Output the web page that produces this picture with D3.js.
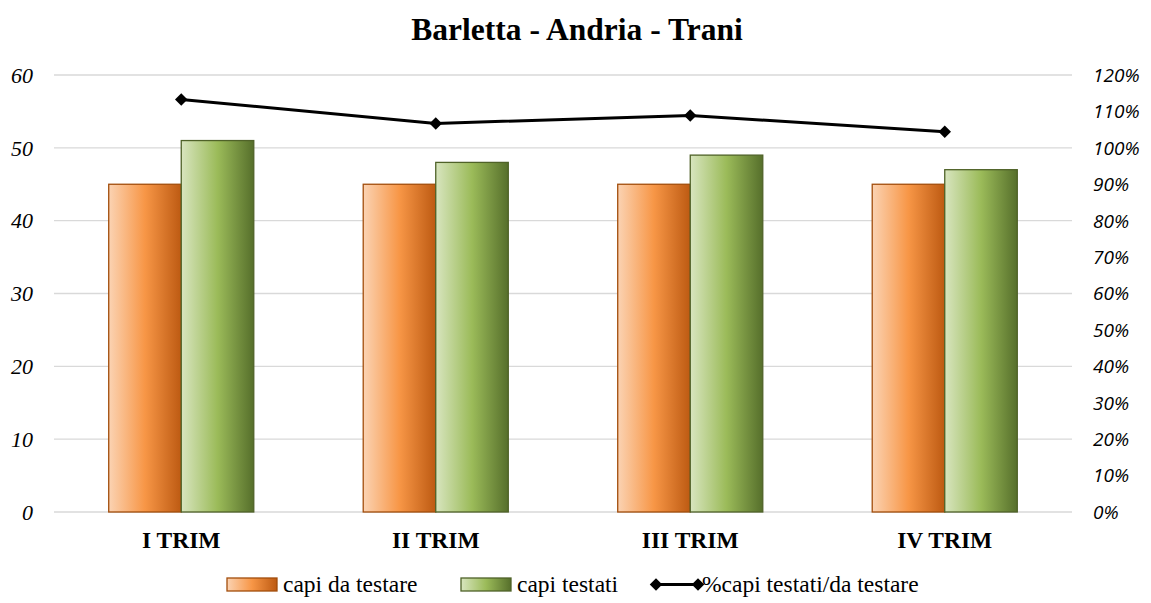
<!DOCTYPE html>
<html>
<head>
<meta charset="utf-8">
<script src="https://cdn.jsdelivr.net/npm/d3@7"></script>
<style>
  html, body { margin: 0; padding: 0; background: #fff; }
  svg { display: block; }
</style>
</head>
<body>
<svg id="chart" width="1151" height="603"></svg>
<script>
// Quarterly figures for Barletta - Andria - Trani
const categories = ["I TRIM", "II TRIM", "III TRIM", "IV TRIM"];
const capiDaTestare = [45, 45, 45, 45];
const capiTestati = [51, 48, 49, 47];
const percentTestati = [1.133, 1.067, 1.089, 1.044];
const leftTicks = [0, 10, 20, 30, 40, 50, 60];
const rightTicks = [0, 0.1, 0.2, 0.3, 0.4, 0.5, 0.6, 0.7, 0.8, 0.9, 1.0, 1.1, 1.2];

const svg = d3.select("#chart");
const plot = { left: 54, right: 1072, top: 75, bottom: 512 };
const serif = "Liberation Serif, serif";

const defs = svg.append("defs");
function grad(id, stops) {
  const g = defs.append("linearGradient").attr("id", id)
    .attr("x1", "0%").attr("x2", "100%").attr("y1", "0%").attr("y2", "0%");
  stops.forEach(([o, c]) => g.append("stop").attr("offset", o).attr("stop-color", c));
}
grad("gOrange", [["0%", "#fbd3b3"], ["50%", "#f79646"], ["100%", "#bd5a12"]]);
grad("gGreen", [["0%", "#d8e5bf"], ["50%", "#9bbb59"], ["100%", "#566f2b"]]);

const x = d3.scaleBand().domain(categories).range([plot.left, plot.right]).paddingInner(0.43).paddingOuter(0.215);
const xSub = d3.scaleBand().domain(["a", "b"]).range([0, x.bandwidth()]);
const xc = d3.scaleBand().domain(categories).range([plot.left, plot.right]);
const yL = d3.scaleLinear().domain([0, 60]).range([plot.bottom, plot.top]);
const yR = d3.scaleLinear().domain([0, 1.2]).range([plot.bottom, plot.top]);

// gridlines
svg.append("g").selectAll("line").data(leftTicks).join("line")
  .attr("x1", plot.left).attr("x2", plot.right)
  .attr("y1", d => yL(d)).attr("y2", d => yL(d))
  .attr("stroke", "#d9d9d9").attr("stroke-width", 1.3);

// left axis labels
svg.append("g").selectAll("text").data(leftTicks).join("text")
  .attr("x", 33).attr("y", d => yL(d)).attr("dy", "0.35em")
  .attr("text-anchor", "end")
  .style("font-family", serif).style("font-style", "italic")
  .style("font-size", "22px").attr("fill", "#000")
  .text(d => d);

// right axis labels
svg.append("g").selectAll("text").data(rightTicks).join("text")
  .attr("x", 1093).attr("y", d => yR(d)).attr("dy", "0.36em")
  .attr("text-anchor", "start")
  .style("font-family", "Open Sans, Liberation Sans, sans-serif").style("font-style", "italic")
  .style("font-size", "19px").attr("fill", "#000")
  .text(d => d3.format(".0%")(d));

// bars
const groups = svg.append("g").selectAll("g").data(categories).join("g")
  .attr("transform", d => `translate(${x(d)},0)`);
groups.append("rect")
  .attr("x", xSub("a")).attr("width", xSub.bandwidth())
  .attr("y", (d, i) => yL(capiDaTestare[i]))
  .attr("height", (d, i) => yL(0) - yL(capiDaTestare[i]))
  .attr("fill", "url(#gOrange)").attr("stroke", "#a24d0c").attr("stroke-width", 1.3);
groups.append("rect")
  .attr("x", xSub("b")).attr("width", xSub.bandwidth())
  .attr("y", (d, i) => yL(capiTestati[i]))
  .attr("height", (d, i) => yL(0) - yL(capiTestati[i]))
  .attr("fill", "url(#gGreen)").attr("stroke", "#4f6228").attr("stroke-width", 1.3);

// ratio line
const lineData = categories.map((c, i) => [xc(c) + xc.bandwidth() / 2, yR(percentTestati[i])]);
svg.append("path").datum(lineData)
  .attr("d", d3.line())
  .attr("fill", "none").attr("stroke", "#000").attr("stroke-width", 3);
const diamond = d3.symbol().type(d3.symbolDiamond2).size(100);
svg.append("g").selectAll("path").data(lineData).join("path")
  .attr("transform", d => `translate(${d[0]},${d[1]})`)
  .attr("d", diamond).attr("fill", "#000");

// category labels
svg.append("g").selectAll("text").data(categories).join("text")
  .attr("x", d => xc(d) + xc.bandwidth() / 2).attr("y", 548)
  .attr("text-anchor", "middle")
  .style("font-family", serif).style("font-weight", "bold")
  .style("font-size", "23.5px").attr("fill", "#000")
  .text(d => d);

// title
svg.append("text").attr("x", 577).attr("y", 40)
  .attr("text-anchor", "middle")
  .style("font-family", serif).style("font-weight", "bold")
  .style("font-size", "31.5px").attr("fill", "#000")
  .text("Barletta - Andria - Trani");

// legend
const lg = svg.append("g").style("font-family", serif).style("font-size", "23.5px").attr("fill", "#000");
lg.append("rect").attr("x", 227).attr("y", 578).attr("width", 50).attr("height", 13)
  .attr("fill", "url(#gOrange)").attr("stroke", "#a24d0c").attr("stroke-width", 1.3);
lg.append("text").attr("x", 283).attr("y", 592).text("capi da testare");
lg.append("rect").attr("x", 461).attr("y", 578).attr("width", 50).attr("height", 13)
  .attr("fill", "url(#gGreen)").attr("stroke", "#4f6228").attr("stroke-width", 1.3);
lg.append("text").attr("x", 517).attr("y", 592).text("capi testati");
lg.append("line").attr("x1", 656).attr("x2", 698).attr("y1", 584.5).attr("y2", 584.5)
  .attr("stroke", "#000").attr("stroke-width", 3);
lg.selectAll("path.m").data([656, 698]).join("path").attr("class", "m")
  .attr("transform", d => `translate(${d},584.5)`).attr("d", diamond).attr("fill", "#000");
lg.append("text").attr("x", 702).attr("y", 592).text("%capi testati/da testare");
</script>
</body>
</html>
